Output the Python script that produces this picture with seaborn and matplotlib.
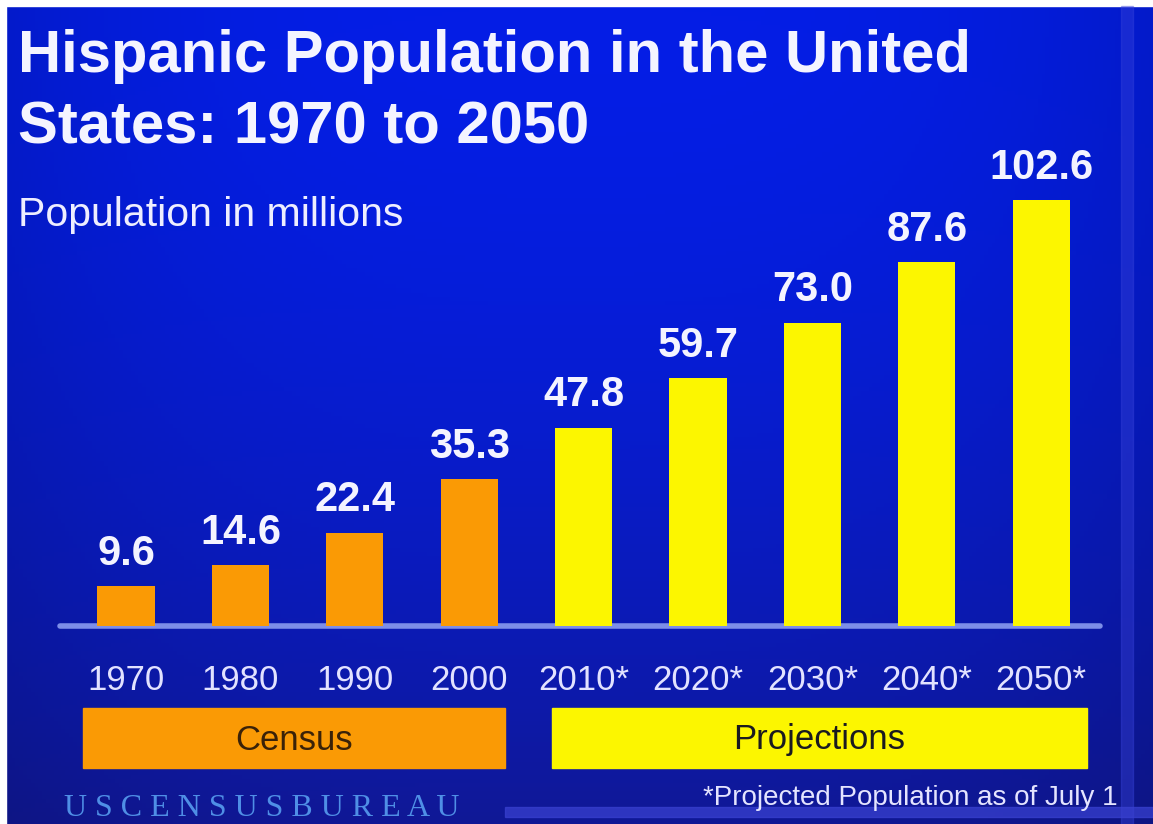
import numpy as np
import pandas as pd
import seaborn as sns
import matplotlib.pyplot as plt
from matplotlib.patches import Rectangle

# data
years = ["1970", "1980", "1990", "2000", "2010*", "2020*", "2030*", "2040*", "2050*"]
population = [9.6, 14.6, 22.4, 35.3, 47.8, 59.7, 73.0, 87.6, 102.6]
kind = ["Census"] * 4 + ["Projections"] * 5
labels = ["9.6", "14.6", "22.4", "35.3", "47.8", "59.7", "73.0", "87.6", "102.6"]

orange = "#fa9a05"
yellow = "#fcf600"
W, H = 1153, 824

sns.set_theme(style="white")
plt.rcParams["font.family"] = ["Liberation Sans", "DejaVu Sans"]

fig = plt.figure(figsize=(W / 100, H / 100), dpi=100)

# background: blue gradient, drawn in pixel coords
bg = fig.add_axes([0, 0, 1, 1], zorder=0)
yy = np.linspace(0, 1, 200)[:, None]
xx = np.linspace(-1, 1, 300)[None, :]
top = np.array([4, 30, 230]) / 255
bot = np.array([16, 24, 150]) / 255
t = yy[..., None] ** 1.8
grad = top[None, None, :] * (1 - t) + bot[None, None, :] * t
grad = grad * (1 - 0.12 * np.abs(xx[..., None]) ** 3)
bg.imshow(np.clip(grad, 0, 1), extent=[0, W, H, 0], aspect="auto")
bg.set_xlim(0, W)
bg.set_ylim(H, 0)
bg.axis("off")

# white margins and decorative stripes
bg.add_patch(Rectangle((0, 0), 6, H, color="white"))
bg.add_patch(Rectangle((0, 0), W, 6, color="white"))
bg.add_patch(Rectangle((1121, 6), 12, H, color="#3a44dc", alpha=0.4))
bg.add_patch(Rectangle((505, 807), W - 505, 10, color="#3a42d2", alpha=0.7))

# titles
bg.text(18, 72, "Hispanic Population in the United", color="#f4f4ff",
        fontsize=43, fontweight="bold", va="baseline")
bg.text(18, 143, "States: 1970 to 2050", color="#f4f4ff",
        fontsize=43, fontweight="bold", va="baseline")
bg.text(18, 226, "Population in millions", color="#eeeeff",
        fontsize=29.5, va="baseline")

# group boxes
bg.add_patch(Rectangle((83, 708), 422, 60, color=orange))
bg.add_patch(Rectangle((552, 708), 535, 60, color=yellow))
bg.text(294, 740, "Census", color="#3a2208", fontsize=25, ha="center", va="center")
bg.text(819, 740, "Projections", color="#1a1a20", fontsize=25, ha="center", va="center")

bg.text(1118, 805, "*Projected Population as of July 1", color="#e4e4ff",
        fontsize=20, ha="right", va="baseline")
bg.text(64, 816, "U S C E N S U S B U R E A U", color="#4f8fe6",
        fontsize=23, family="Liberation Serif", va="baseline")

# bar chart
df = pd.DataFrame({"year": years, "population": population, "kind": kind})
ax = fig.add_axes([60 / W, (H - 626) / H, 1040 / W, 110 * 4.152 / H], zorder=1)
ax.patch.set_alpha(0)
sns.barplot(data=df, x="year", y="population", hue="kind",
            palette={"Census": orange, "Projections": yellow},
            dodge=False, width=0.5, saturation=1, legend=False,
            linewidth=0, edgecolor="none", ax=ax)
ax.set_xlim(-0.577, 8.514)
ax.set_ylim(0, 110)
ax.axhline(0, color="#7d8ee8", lw=4, zorder=0, clip_on=False)

for i, (v, lab) in enumerate(zip(population, labels)):
    ax.annotate(lab, (i, v), xytext=(0, 9), textcoords="offset points",
                ha="center", va="bottom", color="#f4f4ff",
                fontsize=30, fontweight="bold", annotation_clip=False)

ax.set_xticks(range(len(years)), years)
ax.tick_params(axis="x", length=0, pad=27, labelsize=25, labelcolor="#e2e2ff")
ax.set_yticks([])
ax.set_xlabel("")
ax.set_ylabel("")
sns.despine(ax=ax, left=True, bottom=True)

fig.savefig("out.png", dpi=100)
